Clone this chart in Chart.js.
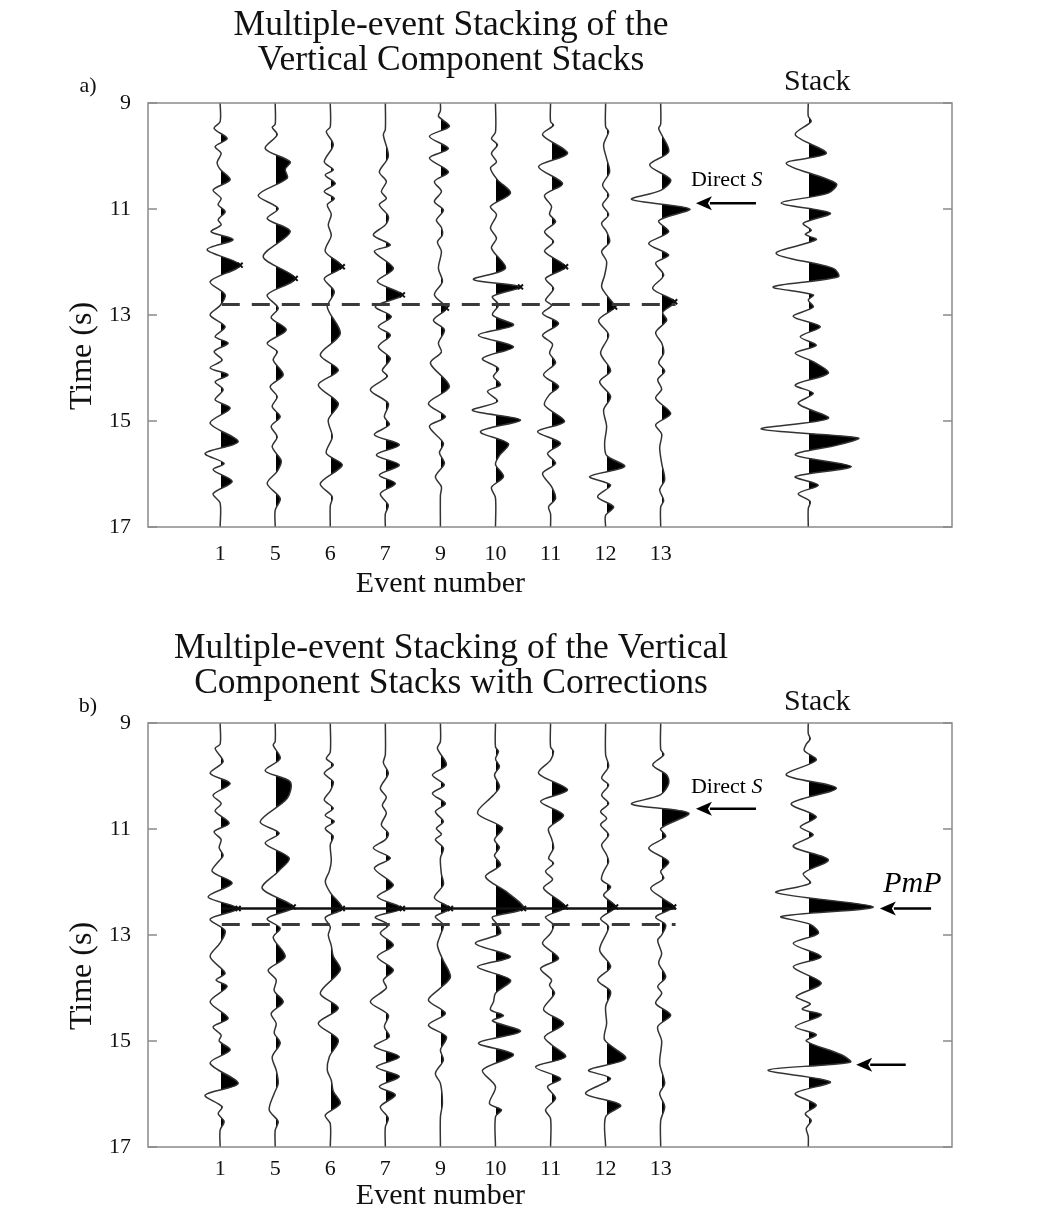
<!DOCTYPE html>
<html>
<head>
<meta charset="utf-8">
<title>Multiple-event Stacking of the Vertical Component Stacks</title>
<script src="https://cdn.jsdelivr.net/npm/chart.js@4.4.0/dist/chart.umd.min.js"></script>
<style>
    html, body { margin: 0; padding: 0; background: #fff; }
    #wrap { position: relative; width: 1044px; height: 1209px; overflow: hidden; }
    canvas { position: absolute; left: 0; }
    #chartA { top: 0; }
    #chartB { top: 620px; }
</style>
</head>
<body>
<div id="wrap">
    <canvas id="chartA" width="1044" height="620"></canvas>
    <canvas id="chartB" width="1044" height="589"></canvas>
</div>
<script>
// Event numbers along the x axis (one trace slot each), time ticks on y
const events = ['1', '5', '6', '7', '9', '10', '11', '12', '13'];
const yTicks = [9, 11, 13, 15, 17];
const stackSlot = 10.68;

// Traces are [time (s), amplitude]

// ---- panel a: vertical component stacks
const a_ev1 = [[9,0],[9.35,0],[9.48,-6],[9.67,7],[9.82,-5],[9.95,1],[10.12,-3],[10.25,0],[10.45,10],[10.64,-7],[10.8,1],[10.92,-2],[11.05,5],[11.2,-2],[11.3,1],[11.43,-9],[11.58,13],[11.77,-13],[12.06,20],[12.37,-10],[12.62,5],[12.82,0],[13.0,-10],[13.22,5],[13.41,-5],[13.53,8],[13.69,-6],[13.85,2],[14.0,-10],[14.13,8],[14.26,-5],[14.41,3],[14.6,-5],[14.76,10],[15.04,-10],[15.39,18],[15.61,-15],[15.8,4],[15.92,-7],[16.14,12],[16.37,-7],[16.55,0],[17,0]];
const a_ev5 = [[9,0],[9.4,0],[9.46,-3],[9.6,2],[9.86,-10],[10.11,15],[10.25,10],[10.42,12],[10.74,-17],[10.99,3],[11.18,-8],[11.43,15],[11.9,-12],[12.31,20],[12.62,-8],[12.87,3],[13.05,-4],[13.28,11],[13.53,-8],[13.69,2],[13.85,-2],[14.13,8],[14.35,-5],[14.54,2],[14.73,-3],[14.92,5],[15.1,-4],[15.3,2],[15.49,-3],[15.75,6],[15.95,2],[16.18,-8],[16.46,5],[16.68,0],[17,0]];
const a_ev6 = [[9,0],[9.45,0],[9.54,-4],[9.79,3],[10.11,-6],[10.26,3],[10.36,-5],[10.52,5],[10.67,-6],[10.8,4],[10.92,-3],[11.1,1],[11.3,-2],[11.5,1],[11.8,-5],[12.09,12],[12.31,-6],[12.56,4],[12.85,-3],[13.35,10],[13.75,-10],[14.04,8],[14.32,-12],[14.67,8],[14.98,-2],[15.3,2],[15.61,-4],[15.83,12],[16.18,-10],[16.43,2],[16.6,0],[17,0]];
const a_ev7 = [[9,0],[9.5,0],[9.6,-2],[10.01,3],[10.3,-6],[10.48,1],[10.67,-4],[10.8,1],[10.92,-6],[11.14,3],[11.3,0],[11.49,-12],[11.68,5],[11.8,-11],[12.12,8],[12.37,-8],[12.62,17],[12.84,-10],[13.03,6],[13.22,-7],[13.38,5],[13.6,-7],[13.82,5],[14.04,-3],[14.16,2],[14.41,-15],[14.67,3],[14.92,-1],[15.07,4],[15.26,-11],[15.45,14],[15.64,-9],[15.83,14],[16.02,-6],[16.18,10],[16.37,-5],[16.59,3],[16.75,0],[17,0]];
const a_ev9 = [[9,0],[9.15,0],[9.25,-2],[9.44,9],[9.63,-11],[9.86,8],[10.04,-11],[10.3,8],[10.48,-6],[10.67,1],[10.86,-6],[11.02,3],[11.21,-4],[11.35,1],[11.49,2],[11.62,-3],[11.8,1],[12.12,-2],[12.37,2],[12.62,-6],[12.87,6],[13.1,-7],[13.28,4],[13.53,-2],[13.7,1],[13.91,-10],[14.35,9],[14.67,-12],[14.92,5],[15.1,-11],[15.42,3],[15.6,-1],[15.8,4],[16.05,-5],[16.24,1],[16.4,0],[17,0]];
const a_ev10 = [[9,0],[9.55,0],[9.67,-4],[9.79,2],[9.95,-4],[10.11,1],[10.23,-5],[10.45,2],[10.7,15],[10.95,-5],[11.11,1],[11.36,-5],[11.55,1],[11.74,-4],[12.12,10],[12.33,-22],[12.47,25],[12.65,-3],[12.81,3],[13.0,-3],[13.19,18],[13.38,-17],[13.6,18],[13.82,-13],[14.01,3],[14.16,-2],[14.32,5],[14.44,-8],[14.63,2],[14.8,-23],[14.98,25],[15.2,-15],[15.43,13],[15.65,4],[15.82,0],[16.05,8],[16.25,-4],[16.45,0],[17,0]];
const a_ev11 = [[9,0],[9.35,0],[9.42,3],[9.6,-8],[9.95,17],[10.2,-12],[10.52,12],[10.74,-6],[10.95,1],[11.1,-1],[11.24,5],[11.43,-6],[11.62,3],[11.8,-6],[12.09,15],[12.31,-5],[12.5,3],[12.72,-5],[12.82,1],[12.97,-8],[13.16,8],[13.38,-8],[13.55,2],[13.72,-1],[13.9,5],[14.13,-7],[14.35,8],[14.5,-1],[14.7,-6],[15.01,14],[15.2,-13],[15.42,10],[15.61,-3],[15.8,5],[15.99,-8],[16.24,1],[16.46,5],[16.62,-2],[16.75,0],[17,0]];
const a_ev12 = [[9,0],[9.45,0],[9.54,3],[9.79,-2],[10.05,1],[10.3,4],[10.55,-3],[10.74,3],[10.92,-3],[11.11,3],[11.27,-4],[11.43,1],[11.62,4],[11.8,-4],[11.99,1],[12.25,-1],[12.47,-4],[12.65,2],[12.85,9],[13.1,-7],[13.38,3],[13.72,-5],[14.05,5],[14.26,-6],[14.54,5],[14.79,-2],[15.1,1],[15.42,-1],[15.65,1],[15.86,19],[16.05,-16],[16.21,5],[16.43,-8],[16.62,8],[16.78,0],[17,0]];
const a_ev13 = [[9,0],[9.4,0],[9.48,-2],[9.6,1],[9.92,8],[10.17,-11],[10.45,10],[10.65,0],[10.82,-29],[11.0,29],[11.22,-2],[11.43,8],[11.65,-12],[11.87,8],[12.02,-5],[12.25,3],[12.5,-8],[12.75,14],[12.95,2],[13.1,6],[13.33,-5],[13.53,1],[13.72,3],[13.9,-2],[14.06,4],[14.22,-3],[14.4,1],[14.57,-5],[14.86,10],[15.07,-5],[15.25,1],[15.5,-1],[15.8,1],[16.11,4],[16.3,-1],[16.5,3],[16.62,0],[17,0]];
const a_stack = [[9,0],[9.25,0],[9.35,3],[9.6,-13],[9.95,18],[10.14,-22],[10.52,28],[10.7,20],[10.89,-27],[11.08,22],[11.27,-5],[11.4,3],[11.48,-3],[11.58,8],[11.84,-32],[12.12,25],[12.28,30],[12.47,-35],[12.62,5],[12.72,0],[12.85,5],[13.03,-15],[13.22,12],[13.41,-8],[13.57,8],[13.72,-13],[13.88,5],[14.1,20],[14.32,-13],[14.48,5],[14.67,-10],[14.95,20],[15.15,-47],[15.32,50],[15.45,30],[15.64,-13],[15.86,43],[16.05,-13],[16.21,10],[16.37,-10],[16.52,2],[16.65,0],[17,0]];
const a_picks = [12.06, 12.31, 12.09, 12.62, 12.87, 12.47, 12.09, 12.85, 12.75];

// ---- panel b: same stacks after the corrections
const b_ev1 = [[9,0],[9.4,0],[9.48,-5],[9.73,3],[9.95,-10],[10.14,10],[10.36,-7],[10.52,1],[10.66,-5],[10.89,9],[11.05,-6],[11.2,1],[11.35,-1],[11.5,3],[11.6,-1],[11.8,-8],[12.02,12],[12.28,-12],[12.5,18],[12.7,-10],[12.92,5],[13.15,0],[13.41,-10],[13.72,5],[13.85,-4],[13.97,7],[14.26,-10],[14.57,8],[14.73,-7],[14.89,1],[15.0,-1],[15.17,10],[15.42,-10],[15.8,18],[16.02,-15],[16.24,2],[16.37,-2],[16.52,4],[16.68,0],[17,0]];
const b_ev5 = [[9,0],[9.35,0],[9.42,-2],[9.67,5],[9.9,-10],[10.11,15],[10.42,12],[10.86,-15],[11.08,4],[11.27,-10],[11.55,14],[11.8,3],[12.12,-13],[12.47,18],[12.69,-8],[12.87,5],[13.05,-2],[13.41,10],[13.66,-7],[13.85,1],[14.05,-1],[14.26,8],[14.48,-4],[14.67,1],[14.85,-1],[15.04,5],[15.3,-3],[15.55,1],[15.8,3],[15.99,-1],[16.3,-6],[16.52,3],[16.68,0],[17,0]];
const b_ev6 = [[9,0],[9.55,0],[9.67,-4],[9.79,3],[9.95,-6],[10.11,3],[10.28,0],[10.45,-6],[10.61,3],[10.74,-5],[10.86,4],[10.99,-5],[11.14,3],[11.3,0],[11.6,1],[11.8,-1],[11.99,-5],[12.2,0],[12.5,12],[12.67,-5],[12.85,0],[13.0,-2],[13.2,1],[13.4,3],[13.66,10],[14.1,-10],[14.38,8],[14.67,-12],[14.98,8],[15.3,-1],[15.55,-3],[15.74,1],[15.95,3],[16.18,10],[16.4,-5],[16.56,0],[17,0]];
const b_ev7 = [[9,0],[9.6,0],[9.75,-2],[9.95,3],[10.23,-5],[10.4,1],[10.55,-3],[10.7,1],[10.92,-4],[11.08,3],[11.2,0],[11.36,-12],[11.55,5],[11.74,-11],[12.06,8],[12.28,-8],[12.5,17],[12.66,-10],[12.81,3],[12.97,-5],[13.19,8],[13.41,-8],[13.66,8],[13.85,-2],[14.0,1],[14.26,-15],[14.51,3],[14.73,-1],[14.92,4],[15.1,-11],[15.3,14],[15.49,-9],[15.67,14],[15.86,-6],[16.02,10],[16.24,-5],[16.46,3],[16.62,0],[17,0]];
const b_ev9 = [[9,0],[9.35,0],[9.48,-3],[9.79,6],[9.98,-8],[10.17,4],[10.33,-8],[10.52,5],[10.67,-5],[10.86,3],[10.99,-4],[11.1,1],[11.2,-5],[11.36,3],[11.55,0],[11.85,1],[12.05,3],[12.3,-6],[12.5,10],[12.65,-5],[12.81,3],[13.0,0],[13.19,-3],[13.45,2],[13.79,10],[14.0,0],[14.23,-12],[14.48,5],[14.7,-12],[14.92,6],[15.17,0],[15.36,3],[15.61,-5],[15.8,0],[16.18,2],[16.43,0],[17,0]];
const b_ev10 = [[9,0],[9.45,0],[9.54,3],[9.68,0],[9.82,4],[9.98,-1],[10.2,4],[10.36,-2],[10.7,-18],[10.98,7],[11.2,-1],[11.35,4],[11.5,-1],[11.68,5],[11.9,-10],[12.2,12],[12.5,28],[12.66,-3],[12.81,2],[12.97,5],[13.16,-20],[13.41,15],[13.6,-18],[13.85,15],[14.1,0],[14.26,-2],[14.41,-5],[14.52,8],[14.62,-3],[14.82,25],[15.04,-17],[15.26,18],[15.55,-13],[15.86,0],[16.18,-6],[16.3,6],[16.43,0],[17,0]];
const b_ev11 = [[9,0],[9.45,0],[9.54,3],[9.7,0],[9.95,-12],[10.26,17],[10.48,-10],[10.74,13],[10.99,-2],[11.18,1],[11.36,3],[11.55,-2],[11.65,3],[11.8,-5],[11.95,2],[12.12,-7],[12.47,15],[12.66,-5],[12.81,3],[12.97,0],[13.16,-8],[13.44,8],[13.63,-10],[13.85,1],[13.95,-1],[14.1,4],[14.41,-7],[14.67,13],[14.92,-6],[15.07,1],[15.3,15],[15.49,-15],[15.71,10],[15.86,-3],[16.08,5],[16.3,-5],[16.46,0],[17,0]];
const b_ev12 = [[9,0],[9.6,0],[9.82,3],[10.04,-4],[10.17,3],[10.36,-4],[10.52,3],[10.67,-5],[10.8,1],[10.92,-5],[11.11,3],[11.3,-4],[11.49,1],[11.62,3],[11.8,-2],[11.96,-4],[12.09,5],[12.25,-2],[12.47,10],[12.69,-5],[12.85,3],[13.28,-6],[13.6,5],[13.85,-8],[14.07,5],[14.35,0],[14.67,1],[14.98,-1],[15.33,20],[15.55,-17],[15.71,5],[15.99,-20],[16.21,15],[16.43,0],[17,0]];
const b_ev13 = [[9,0],[9.5,0],[9.6,3],[9.79,-8],[9.98,6],[10.14,8],[10.35,0],[10.53,-29],[10.7,28],[10.99,0],[11.14,5],[11.36,-12],[11.62,8],[11.8,0],[11.93,3],[12.12,-10],[12.31,2],[12.47,13],[12.66,-5],[12.81,5],[13.0,1],[13.1,-3],[13.35,1],[13.53,-2],[13.79,5],[13.97,-3],[14.1,1],[14.29,-5],[14.51,10],[14.73,-3],[15.0,1],[15.42,-1],[15.8,4],[15.99,-1],[16.24,4],[16.5,0],[17,0]];
const b_stack = [[9,0],[9.2,0],[9.3,2],[9.4,-2],[9.52,-4],[9.7,8],[9.98,-22],[10.23,28],[10.52,-17],[10.77,8],[10.96,-8],[11.11,5],[11.33,-15],[11.58,20],[11.84,-5],[12.02,2],[12.2,-32],[12.47,65],[12.65,-27],[12.8,2],[12.97,10],[13.16,-15],[13.41,13],[13.6,-15],[13.91,13],[14.16,-12],[14.3,2],[14.4,-6],[14.51,13],[14.73,-13],[14.88,8],[15.0,-2],[15.26,33],[15.4,42],[15.55,-40],[15.77,22],[15.99,-13],[16.21,8],[16.37,-3],[16.5,3],[16.65,-2],[16.8,0],[17,0]];
const b_picks = [12.5, 12.47, 12.5, 12.5, 12.5, 12.5, 12.47, 12.47, 12.47];

// Reference picks drawn across the traces: [time, from slot, to slot]
const a_dashed = [12.8, 0.03, 8.27];
const b_dashed = [12.8, 0.03, 8.27];
const b_solid = [12.5, 0.03, 8.27];

const SERIF = '"Liberation Serif", "DejaVu Serif", "Times New Roman", serif';
const GAIN = 1 / 55;              // amplitude units -> trace slots
const X_MIN = -1.31;
const X_MAX = 13.29;

function wiggle(trace, slot) {
    return {
        data: trace.map(([t, a]) => ({ x: slot + a * GAIN, y: t })),
        base: slot,
        borderColor: '#333',
        borderWidth: 1.5,
        pointRadius: 0,
        tension: 0.3,
        fill: false,
        order: 2
    };
}

function ampAt(trace, t) {
    let best = trace[0];
    trace.forEach(p => {
        if (Math.abs(p[0] - t) < Math.abs(best[0] - t)) best = p;
    });
    return best[1];
}

function refLine(spec, dashed) {
    const [t, from, to] = spec;
    return {
        data: [{ x: from, y: t }, { x: to, y: t }],
        borderColor: dashed ? '#3a3a3a' : '#111',
        borderWidth: dashed ? 3 : 2.6,
        borderDash: dashed ? [18, 12] : [],
        pointRadius: 0,
        fill: false,
        order: 0
    };
}

function buildDatasets(traces, stack, picks, lines) {
    const datasets = traces.map((tr, i) => wiggle(tr, i));
    datasets.push(wiggle(stack, stackSlot));
    datasets.push({
        data: picks.map((t, i) => ({ x: i + ampAt(traces[i], t) * GAIN, y: t })),
        showLine: false,
        pointStyle: 'crossRot',
        pointRadius: 3.5,
        pointBorderWidth: 2,
        borderColor: '#111',
        backgroundColor: '#111',
        order: 1
    });
    lines.forEach(l => datasets.push(refLine(l.spec, l.dashed)));
    return datasets;
}

function drawArrow(ctx, xHead, xTail, y) {
    const len = 16, half = 7;
    ctx.beginPath();
    ctx.moveTo(xTail, y);
    ctx.lineTo(xHead + len - 2, y);
    ctx.lineWidth = 2.5;
    ctx.strokeStyle = '#000';
    ctx.stroke();
    ctx.beginPath();
    ctx.moveTo(xHead, y);
    ctx.lineTo(xHead + len, y - half);
    ctx.lineTo(xHead + len - 4, y);
    ctx.lineTo(xHead + len, y + half);
    ctx.closePath();
    ctx.fillStyle = '#000';
    ctx.fill();
}

// Draws positive fills, frame, inward ticks, titles and annotations
function seisPlugin(cfg) {
    return {
        id: 'seis',
        beforeDatasetDraw(chart, args) {
            const ds = chart.data.datasets[args.index];
            if (ds.base === undefined) return;
            const ctx = chart.ctx;
            const area = chart.chartArea;
            const line = args.meta.dataset;
            const pts = args.meta.data;
            if (!line || !pts.length) return;
            if (typeof line.updateControlPoints === 'function') {
                line.updateControlPoints(area, 'y');
            }
            const bx = chart.scales.x.getPixelForValue(ds.base);
            // clip on a whole pixel so no faint baseline is left behind
            const cx = Math.round(bx) + 1;
            ctx.save();
            ctx.beginPath();
            ctx.rect(cx, area.top, area.right - cx, area.bottom - area.top);
            ctx.clip();
            ctx.beginPath();
            line.path(ctx);
            ctx.lineTo(bx, pts[pts.length - 1].y);
            ctx.lineTo(bx, pts[0].y);
            ctx.closePath();
            ctx.fillStyle = '#000';
            ctx.fill();
            ctx.restore();
        },
        afterDraw(chart) {
            const ctx = chart.ctx;
            const a = chart.chartArea;
            const xs = chart.scales.x;
            const ys = chart.scales.y;

            ctx.save();
            // frame and inward ticks
            ctx.strokeStyle = '#8a8a8a';
            ctx.lineWidth = 1.5;
            ctx.strokeRect(a.left, a.top, a.right - a.left, a.bottom - a.top);
            ctx.beginPath();
            yTicks.forEach(v => {
                const py = ys.getPixelForValue(v);
                ctx.moveTo(a.left, py);
                ctx.lineTo(a.left + 9, py);
                ctx.moveTo(a.right - 9, py);
                ctx.lineTo(a.right, py);
            });
            ctx.stroke();

            // titles and labels
            ctx.fillStyle = '#111';
            ctx.textAlign = 'center';
            ctx.textBaseline = 'middle';
            ctx.font = '35.5px ' + SERIF;
            cfg.title.forEach((s, i) => ctx.fillText(s, 451, cfg.titleY[i]));
            ctx.font = '30px ' + SERIF;
            ctx.fillText('Stack', xs.getPixelForValue(stackSlot) + 9, 82);
            ctx.fillText('Event number', xs.getPixelForValue(4), cfg.xTitleY);
            ctx.font = '22px ' + SERIF;
            ctx.fillText(cfg.tag, 88, 86);

            ctx.save();
            ctx.translate(83, 356);
            ctx.rotate(-Math.PI / 2);
            ctx.font = '32px ' + SERIF;
            ctx.fillText('Time (s)', 0, 0);
            ctx.restore();

            // arrows and phase names
            cfg.arrows.forEach(ar => {
                drawArrow(ctx, xs.getPixelForValue(ar[0]), xs.getPixelForValue(ar[1]), ys.getPixelForValue(ar[2]));
            });
            const ds = cfg.directS;
            ctx.textAlign = 'left';
            ctx.font = '22px ' + SERIF;
            const dx = xs.getPixelForValue(ds[0]);
            const dy = ys.getPixelForValue(ds[1]);
            ctx.fillText('Direct ', dx, dy);
            const w = ctx.measureText('Direct ').width;
            ctx.font = 'italic 22px ' + SERIF;
            ctx.fillText('S', dx + w, dy);
            if (cfg.pmp) {
                ctx.font = 'italic 30px ' + SERIF;
                ctx.fillText('PmP', xs.getPixelForValue(cfg.pmp[0]), ys.getPixelForValue(cfg.pmp[1]));
            }
            ctx.restore();
        }
    };
}

function makeChart(canvasId, datasets, cfg) {
    return new Chart(document.getElementById(canvasId), {
        type: 'line',
        data: { datasets: datasets },
        options: {
            indexAxis: 'y',
            responsive: false,
            animation: false,
            events: [],
            layout: { padding: { top: 103, right: 92, bottom: cfg.padBottom, left: 0 } },
            plugins: {
                legend: { display: false },
                tooltip: { enabled: false },
                title: { display: false }
            },
            scales: {
                x: {
                    type: 'linear',
                    position: 'bottom',
                    min: X_MIN,
                    max: X_MAX,
                    grid: { display: false },
                    border: { display: false },
                    afterBuildTicks: s => { s.ticks = events.map((e, i) => ({ value: i })); },
                    afterFit: s => { s.height = 50; },
                    ticks: {
                        autoSkip: false,
                        maxRotation: 0,
                        padding: cfg.tickPad,
                        color: '#111',
                        font: { family: SERIF, size: 22 },
                        callback: v => events[v] !== undefined ? events[v] : ''
                    }
                },
                y: {
                    type: 'linear',
                    position: 'left',
                    reverse: true,
                    min: 9,
                    max: 17,
                    grid: { display: false },
                    border: { display: false },
                    afterBuildTicks: s => { s.ticks = yTicks.map(v => ({ value: v })); },
                    afterFit: s => { s.width = 148; },
                    ticks: {
                        padding: 9,
                        color: '#111',
                        font: { family: SERIF, size: 22 }
                    }
                }
            }
        },
        plugins: [seisPlugin(cfg)]
    });
}

const tracesA = [a_ev1, a_ev5, a_ev6, a_ev7, a_ev9, a_ev10, a_ev11, a_ev12, a_ev13];
const tracesB = [b_ev1, b_ev5, b_ev6, b_ev7, b_ev9, b_ev10, b_ev11, b_ev12, b_ev13];

makeChart('chartA',
    buildDatasets(tracesA, a_stack, a_picks, [{ spec: a_dashed, dashed: true }]),
    {
        tag: 'a)',
        title: ['Multiple-event Stacking of the', 'Vertical Component Stacks'],
        titleY: [26, 61],
        padBottom: 43,
        tickPad: 6,
        xTitleY: 584,
        arrows: [[8.64, 9.73, 10.89]],
        directS: [8.55, 10.45],
        pmp: null
    });

makeChart('chartB',
    buildDatasets(tracesB, b_stack, b_picks, [{ spec: b_solid, dashed: false }, { spec: b_dashed, dashed: true }]),
    {
        tag: 'b)',
        title: ['Multiple-event Stacking of the Vertical', 'Component Stacks with Corrections'],
        titleY: [29, 64],
        padBottom: 12,
        tickPad: 1,
        xTitleY: 576,
        arrows: [[8.64, 9.73, 10.62], [11.98, 12.91, 12.5], [11.55, 12.45, 15.45]],
        directS: [8.55, 10.21],
        pmp: [12.04, 12.04]
    });
</script>
</body>
</html>
